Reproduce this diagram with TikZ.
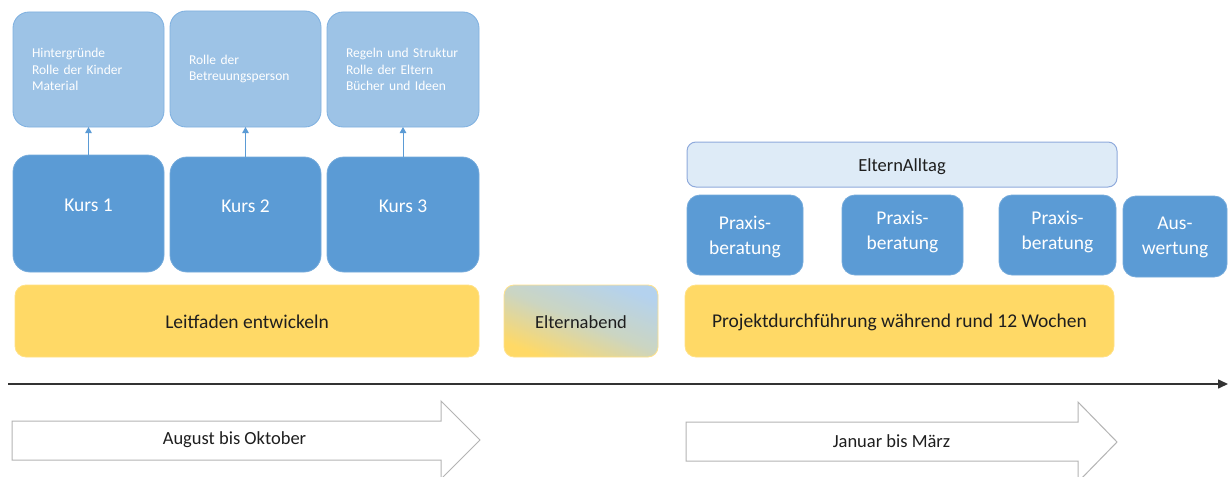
\documentclass[tikz,border=0pt]{standalone}
\usepackage{fontspec}
\setmainfont{Carlito}
\usetikzlibrary{arrows.meta}
\definecolor{kblue}{HTML}{5B9BD5}
\definecolor{tblue}{HTML}{9DC3E6}
\definecolor{tborder}{HTML}{7EB0E0}
\definecolor{ablue}{HTML}{DEEBF7}
\definecolor{aborder}{HTML}{8FAADC}
\definecolor{kyellow}{HTML}{FFD966}
\definecolor{eblue}{HTML}{B4D2EE}
\definecolor{emid}{HTML}{CBD5C2}
\definecolor{dtext}{HTML}{1E1E1E}
\definecolor{agray}{HTML}{B4B4B4}
\tikzset{
  base/.style={inner sep=0pt, outer sep=0pt},
  topbox/.style={base, rounded corners=16pt, fill=tblue, draw=tborder, line width=0.8pt,
    text width=#1-38pt, inner xsep=19pt, minimum width=#1, align=left, text=white,
    font=\fontsize{13.5}{16.5}\selectfont},
  kursbox/.style={base, rounded corners=17pt, fill=kblue, draw=kblue!85!white, line width=0.8pt},
  praxbox/.style={base, rounded corners=13pt, fill=kblue, draw=kblue!85!white, line width=0.8pt},
  ybox/.style={base, rounded corners=11pt, fill=kyellow, draw=kyellow!80!white, line width=0.8pt},
  alltagbox/.style={base, rounded corners=9pt, fill=ablue, draw=aborder, line width=1pt},
  wlbl/.style={base, text=white, align=center, font=\fontsize{19.5}{25}\selectfont},
  dlbl/.style={base, text=dtext, align=center, font=\fontsize{19.5}{24}\selectfont},
  slbl/.style={base, text=dtext, align=center, font=\fontsize{18.5}{22}\selectfont},
  conn/.style={kblue, line width=1pt, -{Triangle[length=6pt, width=6.5pt]}},
  timeaxis/.style={black!80, line width=1.5pt, -{Triangle[length=10pt, width=9pt]}},
  bigarrow/.style={fill=white, draw=agray, line width=1pt, line join=miter},
}
\begin{document}
\begin{tikzpicture}[x=1pt, y=-1pt]
\clip (0,0) rectangle (1230,476);
\fill[white] (0,0) rectangle (1230,476);

% top content boxes
\node[topbox=151pt, minimum height=115pt] (t1) at (88.5,69.5) {Hintergründe\\Rolle der Kinder\\Material};
\node[topbox=151pt, minimum height=116pt] (t2) at (245.5,69) {Rolle der\\Betreuungsperson};
\node[topbox=152pt, minimum height=115pt] (t3) at (403,69.5) {Regeln und Struktur\\Rolle der Eltern\\Bücher und Ideen};

% Kurs boxes
\node[kursbox, minimum width=151pt, minimum height=117pt] (k1) at (88.5,213.5) {};
\node[kursbox, minimum width=151pt, minimum height=115pt] (k2) at (245.5,214.5) {};
\node[kursbox, minimum width=152pt, minimum height=115pt] (k3) at (403,214.5) {};
\node[wlbl] (k1t) at (88.5,205) {Kurs 1};
\node[wlbl] (k2t) at (245.5,206) {Kurs 2};
\node[wlbl] (k3t) at (403,206) {Kurs 3};

\draw[conn] (k1.north) -- (t1.south);
\draw[conn] (k2.north) -- (t2.south);
\draw[conn] (k3.north) -- (t3.south);

% ElternAlltag
\node[alltagbox, minimum width=430pt, minimum height=45pt] (alltag) at (902,164.5) {};
\node[slbl] (alltagt) at (902,167) {ElternAlltag};

% Praxisberatung / Auswertung
\node[praxbox, minimum width=116pt, minimum height=80pt] (p1) at (745,235) {};
\node[praxbox, minimum width=121pt, minimum height=80pt] (p2) at (902.5,235) {};
\node[praxbox, minimum width=117pt, minimum height=80pt] (p3) at (1057.5,235) {};
\node[praxbox, minimum width=104pt, minimum height=81pt] (aw) at (1175,236.5) {};
\node[wlbl] (p1t) at (745,236.5) {Praxis-\\beratung};
\node[wlbl] (p2t) at (902.5,231.5) {Praxis-\\beratung};
\node[wlbl] (p3t) at (1057.5,231.5) {Praxis-\\beratung};
\node[wlbl] (awt) at (1175,237.5) {Aus-\\wertung};

% yellow row
\node[ybox, minimum width=464pt, minimum height=72pt] (lf) at (247,321) {};
\node[dlbl] (lft) at (247,322) {Leitfaden entwickeln};
\node[base, rounded corners=10pt, draw=kyellow!75!white, line width=0.8pt,
      top color=eblue, bottom color=kyellow, middle color=emid, shading angle=-22,
      minimum width=154pt, minimum height=72pt] (ea) at (581,321) {};
\node[slbl] (eat) at (581,322) {Elternabend};
\node[ybox, minimum width=429pt, minimum height=72pt] (pd) at (899.5,321) {};
\node[dlbl] (pdt) at (899.5,322) {Projektdurchführung während rund 12 Wochen};

% time axis
\coordinate (ax1) at (8,384);
\coordinate (ax2) at (1228,384);
\draw[timeaxis] (ax1) -- (ax2);

% period arrows
\draw[bigarrow] (12,421) -- (441,421) -- (441,401) -- (480,440) -- (441,479) -- (441,460) -- (12,460) -- cycle;
\node[slbl] (aug) at (234.5,440) {August bis Oktober};
\draw[bigarrow] (686,422) -- (1078,422) -- (1078,402) -- (1117,442) -- (1078,482) -- (1078,461) -- (686,461) -- cycle;
\node[slbl] (jan) at (891.5,441) {Januar bis März};
\end{tikzpicture}
\end{document}
